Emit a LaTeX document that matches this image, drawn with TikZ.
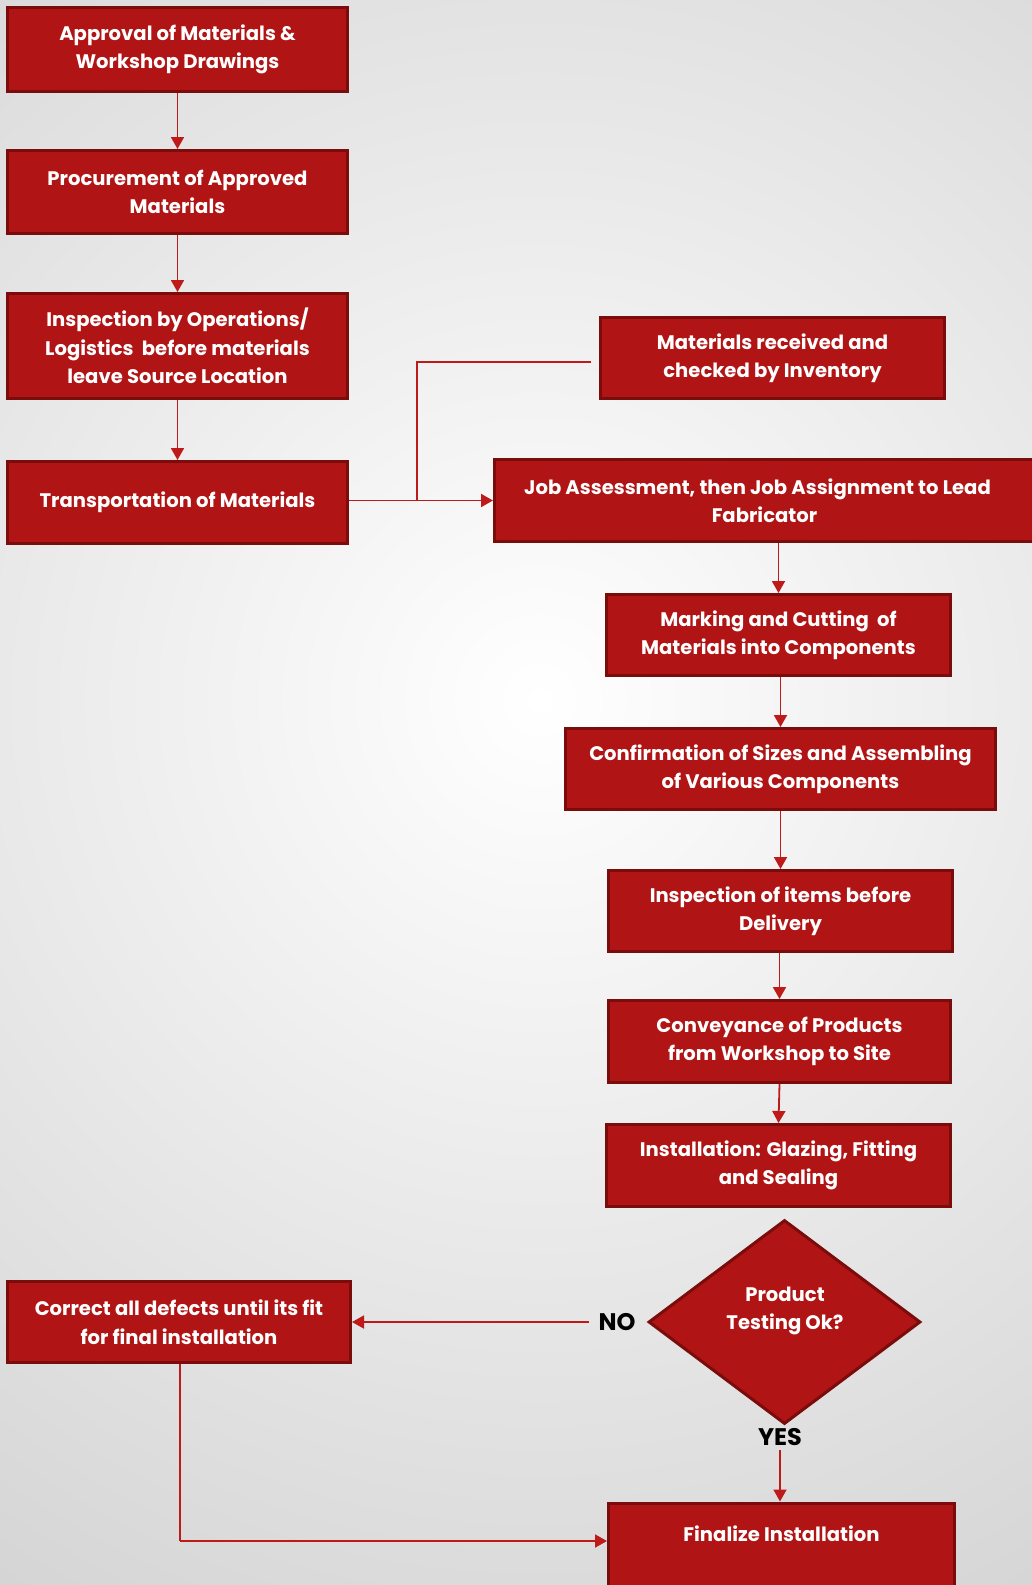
\documentclass[tikz,border=0pt]{standalone}
\usepackage{fontspec}
\setmainfont{Poppins}
\usetikzlibrary{shapes.geometric,arrows.meta}
\definecolor{boxred}{RGB}{176,20,20}
\definecolor{boxedge}{RGB}{122,12,12}
\definecolor{linered}{RGB}{190,26,26}
\definecolor{bgout}{RGB}{192,192,192}
\tikzset{
  boxfont/.style={font=\bfseries\fontsize{19.6}{28.5}\selectfont},
  stepbox/.style={rectangle, fill=boxred, draw=boxedge, line width=3pt,
    text=white, boxfont, align=center, inner sep=0pt},
  decision/.style={diamond, fill=boxred, draw=boxedge, line width=3pt,
    inner sep=0pt, minimum width=272pt, minimum height=204pt},
  whitetext/.style={text=white, boxfont, align=center, inner sep=0pt},
  flow/.style={draw=linered, line width=1.8pt, -{Triangle[width=13pt,length=12pt]}},
  plain/.style={draw=linered, line width=1.8pt},
  lbl/.style={text=black, font=\bfseries\fontsize{24}{26}\selectfont, inner sep=1pt}
}
\begin{document}
\begin{tikzpicture}[x=1pt,y=-1pt]
\useasboundingbox (0,0) rectangle (1032,1585);
\begin{scope}
\clip (0,0) rectangle (1032,1585);
\fill[bgout] (0,0) rectangle (1032,1585);
\shade[inner color=white, outer color=bgout] (540,700) circle (1550);
\end{scope}

\node[stepbox, minimum width=340pt, minimum height=84pt] (a1) at (177.5,49.5) {Approval of Materials \&\\Workshop Drawings};
\node[stepbox, minimum width=340pt, minimum height=83pt] (a2) at (177.5,192) {Procurement of Approved\\Materials};
\node[stepbox, minimum width=340pt, minimum height=105pt] (a3) at (177.5,346) {Inspection by Operations/\\Logistics\ \ before materials\\leave Source Location};
\node[stepbox, minimum width=340pt, minimum height=82pt] (a4) at (177.5,502.5) {Transportation of Materials};
\node[stepbox, minimum width=344pt, minimum height=81pt] (inv) at (772.5,358) {Materials received and\\checked by Inventory};
\node[stepbox, minimum width=540pt, minimum height=82pt] (job) at (764.5,500.5) {Job Assessment, then Job Assignment to Lead\hspace*{14pt}\\Fabricator};
\node[stepbox, minimum width=344pt, minimum height=81pt] (mark) at (778.5,635) {Marking and Cutting\ \ of\\Materials into Components};
\node[stepbox, minimum width=430pt, minimum height=81pt] (conf) at (780.5,769) {Confirmation of Sizes and Assembling\\of Various Components};
\node[stepbox, minimum width=344pt, minimum height=81pt] (insp) at (780.5,911) {Inspection of items before\\Delivery};
\node[stepbox, minimum width=342pt, minimum height=82pt] (conv) at (779.5,1041.5) {Conveyance of Products\\from Workshop to Site};
\node[stepbox, minimum width=344pt, minimum height=82pt] (inst) at (778.5,1165.5) {Installation: Glazing, Fitting\\and Sealing};
\node[decision] (dia) at (784.5,1322) {};
\node[whitetext] (diatext) at (785,1311) {Product\\Testing Ok?};
\node[stepbox, minimum width=343pt, minimum height=81pt] (corr) at (179,1322) {Correct all defects until its fit\\for final installation};
\node[stepbox, minimum width=346pt, minimum height=100pt] (fin) at (781.5,1553) {};
\node[whitetext] (fintext) at (781.5,1534) {Finalize Installation};

\node[lbl] (no) at (617,1322) {NO};
\node[lbl] (yes) at (780,1437) {YES};

\coordinate (jn) at (417,500.5);
\coordinate (c1) at (180,1541);

\draw[flow] (a1.south) -- (a2.north);
\draw[flow] (a2.south) -- (a3.north);
\draw[flow] (a3.south) -- (a4.north);
\draw[flow] (a4.east |- job.west) -- (job.west);
\draw[plain] ([xshift=-8pt,yshift=-4pt]inv.west) -| (jn);
\draw[flow] (mark.north |- job.south) -- (mark.north);
\draw[flow] (conf.north |- mark.south) -- (conf.north);
\draw[flow] (insp.north |- conf.south) -- (insp.north);
\draw[flow] (conv.north |- insp.south) -- (conv.north);
\draw[flow] (conv.south) -- (inst.north);
\draw[flow] ([xshift=-8pt]no.west) -- (corr.east);
\draw[flow] ([yshift=-3pt]yes.south) -- (yes.south |- fin.north);
\draw[plain] (corr.south -| c1) -- (c1);
\draw[flow] (c1) -- (c1 -| fin.west);
\end{tikzpicture}
\end{document}
